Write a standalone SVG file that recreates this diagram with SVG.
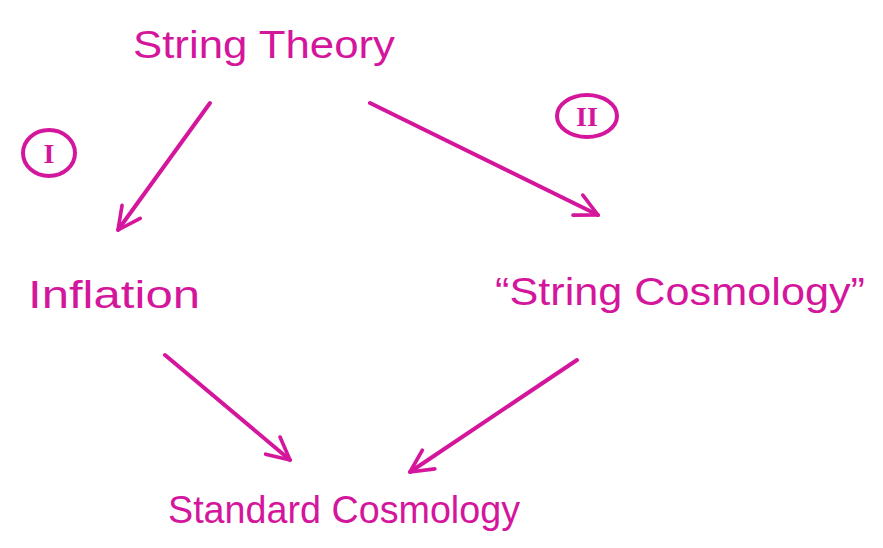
<svg xmlns="http://www.w3.org/2000/svg" width="883" height="548" viewBox="0 0 883 548">
<defs>
<style>
.t{font-family:"Liberation Sans",Arial,sans-serif;fill:#d4169c;font-size:38px}
.c{fill:none;stroke:#d4169c;stroke-width:4;stroke-linecap:round}
.r{font-family:"Liberation Serif",serif;fill:#d4169c;font-size:28px;font-weight:bold}
</style>
<marker id="ah" viewBox="0 0 20 20" refX="18" refY="10" markerWidth="28" markerHeight="28" markerUnits="userSpaceOnUse" orient="auto">
<path d="M2,2 L18,10 L2,18" fill="none" stroke="#d4169c" stroke-width="2.6" stroke-linecap="round" stroke-linejoin="round"/>
</marker>
</defs>
<rect width="883" height="548" fill="#ffffff"/>
<g id="string-theory"><text class="t" x="133" y="58" textLength="262" lengthAdjust="spacingAndGlyphs">String Theory</text></g>
<g id="label-I"><ellipse class="c" cx="49" cy="153" rx="26" ry="23"/><text class="r" x="49" y="163" text-anchor="middle">I</text></g>
<g id="label-II"><ellipse class="c" cx="587" cy="116" rx="30" ry="21"/><text class="r" x="587" y="126" text-anchor="middle">II</text></g>
<g id="inflation"><text class="t" x="28" y="308" textLength="172" lengthAdjust="spacingAndGlyphs">Inflation</text></g>
<g id="string-cosmology"><text class="t" x="495" y="305" textLength="370" lengthAdjust="spacingAndGlyphs">“String Cosmology”</text></g>
<g id="standard-cosmology"><text class="t" x="168" y="523" textLength="352" lengthAdjust="spacingAndGlyphs">Standard Cosmology</text></g>
<g id="connectors">
<path class="c" d="M210,103 L118,230" marker-end="url(#ah)"/>
<path class="c" d="M370,103 L598,215" marker-end="url(#ah)"/>
<path class="c" d="M165,355 L290,460" marker-end="url(#ah)"/>
<path class="c" d="M577,360 L410,472" marker-end="url(#ah)"/>
</g>
</svg>
